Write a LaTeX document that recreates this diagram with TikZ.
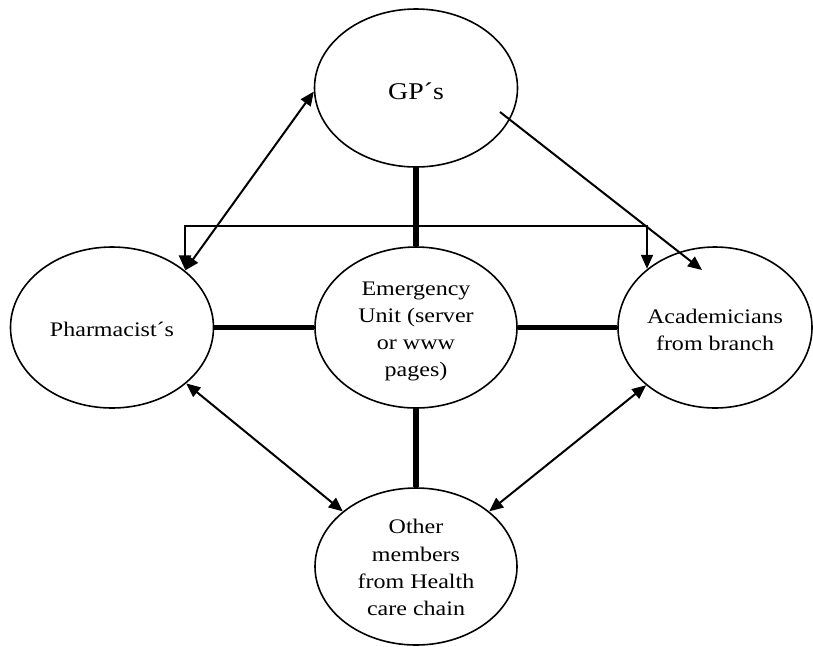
\documentclass[tikz,border=0pt]{standalone}
\usepackage{fontspec}
\setmainfont{Liberation Serif}[FakeStretch=1.16]
\usetikzlibrary{arrows.meta,shapes.geometric}
\begin{document}
\begin{tikzpicture}[x=1pt,y=-1pt,
  party/.style={draw, ellipse, line width=1.6pt, inner sep=0pt, align=center,
                font=\fontsize{20.7}{27.3}\selectfont},
  tie/.style={line width=5.8pt},
  tip/.tip={Triangle[length=14pt,width=12pt]},
  flow/.style={line width=2pt, -tip},
  dflow/.style={line width=2pt, tip-tip},
]
\useasboundingbox (0,0) rectangle (813,646);

% participants (the zero-width rules set the height of each first line)
\node[party, minimum width=203pt, minimum height=158pt,
      font=\fontsize{24}{28}\selectfont] (gp) at (416,88) {\rule{0pt}{23pt}GP´s};
\node[party, minimum width=203pt, minimum height=161pt] (pharm) at (112,327.5)
      {\rule{0pt}{18pt}Pharmacist´s};
\node[party, minimum width=202pt, minimum height=161pt] (eu) at (416,327.5)
      {\rule{0pt}{21.5pt}Emergency\\Unit (server\\or www\\pages)};
\node[party, minimum width=194pt, minimum height=161pt] (acad) at (715,327.5)
      {\rule{0pt}{18.5pt}Academicians\\from branch};
\node[party, minimum width=202pt, minimum height=157pt] (other) at (416,566.5)
      {\rule{0pt}{17pt}Other\\members\\from Health\\care chain};

% links through the emergency unit
\draw[tie] (gp) -- (eu);
\draw[tie] (pharm) -- (eu);
\draw[tie] (eu) -- (acad);
\draw[tie] (eu) -- (other);

% information flows
\coordinate (gpout) at (500,112);
\coordinate (acadin) at (702,270);
\coordinate (busL) at (185,226);
\coordinate (busR) at (647,226);

\draw[dflow] (gp.182) -- (pharm.38);
\draw[flow] (gpout) -- (acadin);
\draw[dflow] (busL |- pharm.39) -- (busL) -- (busR) -- (busR |- acad.139);
\draw[dflow] (pharm.323) -- (other.143);
\draw[dflow] (acad.220) -- (other.37);
\end{tikzpicture}
\end{document}
